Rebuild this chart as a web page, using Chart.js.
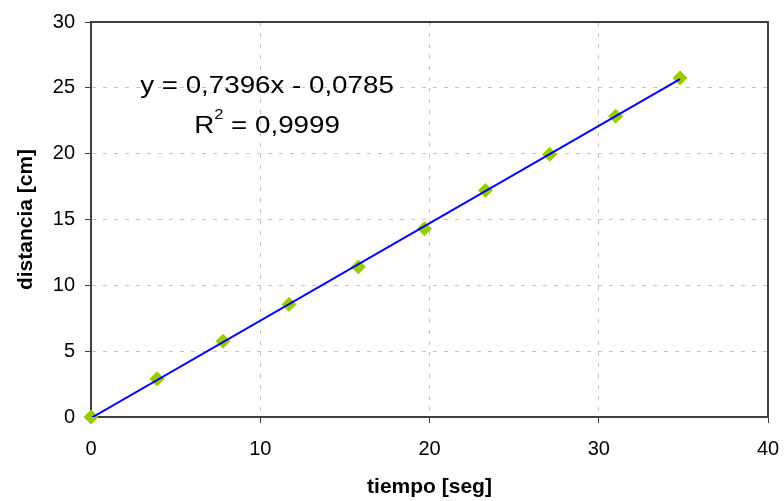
<!DOCTYPE html>
<html>
<head>
<meta charset="utf-8">
<script src="https://cdn.jsdelivr.net/npm/chart.js@4/dist/chart.umd.min.js"></script>
<style>
  html, body { margin: 0; padding: 0; background: #fff; }
  #wrap { width: 784px; height: 501px; }
</style>
</head>
<body>
<div id="wrap"><canvas id="c" width="784" height="501"></canvas></div>
<script>
// measured points: tiempo [seg] vs distancia [cm]
var tiempo = [0, 3.9, 7.8, 11.7, 15.8, 19.7, 23.3, 27.1, 31.0, 34.8];
var distancia = [0, 2.9, 5.75, 8.55, 11.4, 14.3, 17.2, 19.95, 22.85, 25.75];
// linear trendline end points as drawn
var trendX = [0, 34.8];
var trendY = [-0.08, 25.66];
var eqText = 'y = 0,7396x - 0,0785';
var r2Value = '0,9999';
var xTicks = [0, 10, 20, 30, 40];
var yTicks = [0, 5, 10, 15, 20, 25, 30];

var FONT = '"Liberation Sans", Arial, sans-serif';
var pts = tiempo.map(function (t, i) { return { x: t, y: distancia[i] }; });
var trend = trendX.map(function (t, i) { return { x: t, y: trendY[i] }; });

// text in the reference is a bit wider than plain Arial
var SX = 1.18;
function wideText(ctx, txt, x, y, size) {
    ctx.save();
    ctx.font = size + 'px ' + FONT;
    ctx.translate(x, y);
    ctx.scale(SX, 1);
    ctx.fillText(txt, 0, 0);
    ctx.restore();
}
function wideWidth(ctx, txt, size) {
    ctx.font = size + 'px ' + FONT;
    return ctx.measureText(txt).width * SX;
}

var frame = {
    id: 'frame',
    afterDraw: function (chart) {
        var ctx = chart.ctx, a = chart.chartArea;
        ctx.save();
        ctx.strokeStyle = '#404040';
        ctx.lineWidth = 2;
        ctx.beginPath();
        ctx.moveTo(a.left, a.top);
        ctx.lineTo(a.right, a.top);
        ctx.lineTo(a.right, a.bottom);
        ctx.stroke();
        // equation label
        ctx.fillStyle = '#000';
        ctx.textAlign = 'left';
        ctx.textBaseline = 'alphabetic';
        var big = 23.5, small = 14;
        var w1 = wideWidth(ctx, eqText, big);
        wideText(ctx, eqText, 267 - w1 / 2, 93, big);
        var rest = ' = ' + r2Value;
        var wR = wideWidth(ctx, 'R', big);
        var wSup = wideWidth(ctx, '2', small);
        var wRest = wideWidth(ctx, rest, big);
        var x0 = 267 - (wR + wSup + wRest) / 2;
        wideText(ctx, 'R', x0, 133, big);
        wideText(ctx, '2', x0 + wR, 119, small);
        wideText(ctx, rest, x0 + wR + wSup, 133, big);
        ctx.restore();
    }
};

new Chart(document.getElementById('c'), {
    type: 'scatter',
    data: {
        datasets: [
            {
                label: 'trend',
                data: trend,
                showLine: true,
                borderColor: '#0000FF',
                borderWidth: 2,
                pointRadius: 0,
                fill: false
            },
            {
                label: 'distancia',
                data: pts,
                pointStyle: 'rectRot',
                pointRadius: 7,
                pointBackgroundColor: '#99CC00',
                pointBorderColor: '#99CC00',
                pointBorderWidth: 1,
                clip: false
            }
        ]
    },
    options: {
        responsive: false,
        animation: false,
        devicePixelRatio: 1,
        layout: { padding: { top: 22, right: 16, left: 0, bottom: 0 } },
        plugins: {
            legend: { display: false },
            tooltip: { enabled: false }
        },
        scales: {
            x: {
                type: 'linear',
                min: 0,
                max: 40,
                afterFit: function (s) {
                    s.height = 84;
                    s.paddingLeft = 0;
                    s.paddingRight = 0;
                },
                afterBuildTicks: function (s) { s.ticks = xTicks.map(function (v) { return { value: v }; }); },
                ticks: {
                    color: '#000',
                    padding: 14,
                    maxRotation: 0,
                    font: { family: FONT, size: 20 }
                },
                grid: {
                    color: '#c4c4c4',
                    tickBorderDash: [],
                    tickColor: '#404040',
                    tickLength: 6,
                    tickWidth: 1
                },
                border: { color: '#404040', width: 2, dash: [4, 7] },
                title: {
                    display: true,
                    text: 'tiempo [seg]',
                    color: '#000',
                    padding: { top: 0, bottom: 1 },
                    font: { family: FONT, size: 21, weight: 'bold' }
                }
            },
            y: {
                min: 0,
                max: 30,
                afterFit: function (s) {
                    s.width = 91;
                    s.paddingTop = 0;
                    s.paddingBottom = 0;
                },
                afterBuildTicks: function (s) { s.ticks = yTicks.map(function (v) { return { value: v }; }); },
                ticks: {
                    color: '#000',
                    padding: 10,
                    font: { family: FONT, size: 20 }
                },
                grid: {
                    color: '#c4c4c4',
                    tickBorderDash: [],
                    tickColor: '#404040',
                    tickLength: 6,
                    tickWidth: 1
                },
                border: { color: '#404040', width: 2, dash: [4, 7] },
                title: {
                    display: true,
                    text: 'distancia [cm]',
                    color: '#000',
                    padding: { top: 14, bottom: 0 },
                    font: { family: FONT, size: 21, weight: 'bold' }
                }
            }
        }
    },
    plugins: [frame]
});
</script>
</body>
</html>
